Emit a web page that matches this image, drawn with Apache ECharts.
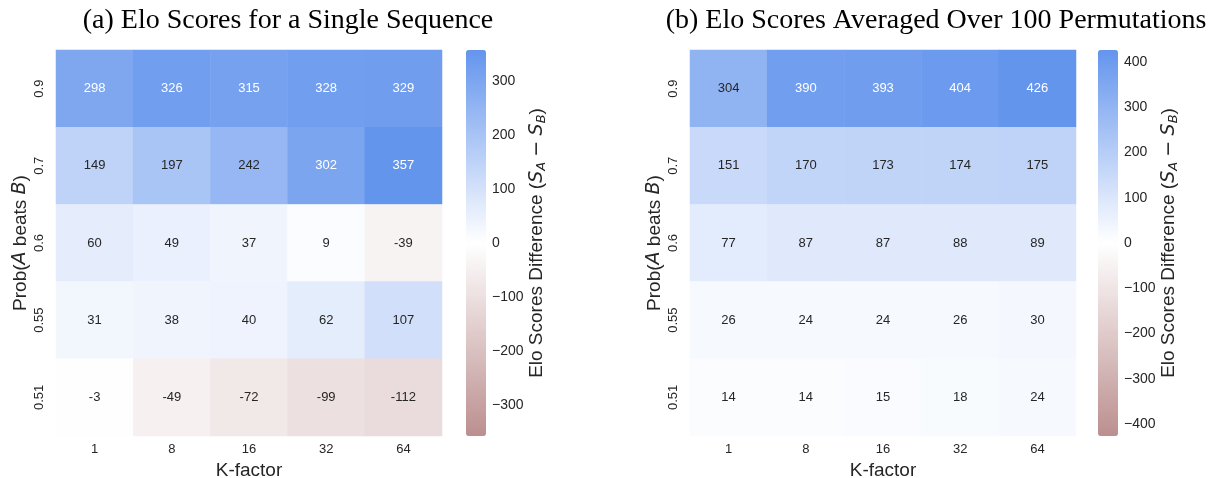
<!DOCTYPE html>
<html>
<head>
<meta charset="utf-8">
<script src="https://cdn.jsdelivr.net/npm/echarts@6/dist/echarts.min.js"></script>
<style>
html,body{margin:0;padding:0;background:#fff;}
#chart{width:1221px;height:478px;}
</style>
</head>
<body>
<div id="chart"></div>
<script>
// ---- data ----
const kFactors = ['1', '8', '16', '32', '64'];
const probLabels = ['0.9', '0.7', '0.6', '0.55', '0.51'];
const singleSeq = [
  [298, 326, 315, 328, 329],
  [149, 197, 242, 302, 357],
  [60, 49, 37, 9, -39],
  [31, 38, 40, 62, 107],
  [-3, -49, -72, -99, -112]
];
const avgPerm = [
  [304, 390, 393, 404, 426],
  [151, 170, 173, 174, 175],
  [77, 87, 87, 88, 89],
  [26, 24, 24, 26, 30],
  [14, 14, 15, 18, 24]
];
const cbTicksA = [-300, -200, -100, 0, 100, 200, 300];
const cbTicksB = [-400, -300, -200, -100, 0, 100, 200, 300, 400];
const titleA = '(a) Elo Scores for a Single Sequence';
const titleB = '(b) Elo Scores Averaged Over 100 Permutations';

// ---- style ----
const LOW = [188, 143, 143], MID = [255, 255, 255], HIGH = [100, 149, 237];
const TXT = '#262626';
const SANS = '"Liberation Sans", Arial, sans-serif';
const MATH = '"DejaVu Sans", sans-serif';
const SERIF = '"Liberation Serif", "DejaVu Serif", serif';
const NAME_FS = 19;

function absMax(m) { let v = 0; m.forEach(r => r.forEach(x => { v = Math.max(v, Math.abs(x)); })); return v; }
const vmaxA = absMax(singleSeq), vmaxB = absMax(avgPerm);

function cmap(v, vmax) {
  const t = (v + vmax) / (2 * vmax);
  let a, b, f;
  if (t < 0.5) { a = LOW; b = MID; f = t / 0.5; } else { a = MID; b = HIGH; f = (t - 0.5) / 0.5; }
  return a.map((c, i) => c + (b[i] - c) * f);
}
function lum(rgb) {
  const l = rgb.map(c => { c /= 255; return c <= 0.03928 ? c / 12.92 : Math.pow((c + 0.055) / 1.055, 2.4); });
  return 0.2126 * l[0] + 0.7152 * l[1] + 0.0722 * l[2];
}
function buildData(m, vmax) {
  const out = [];
  m.forEach((row, i) => row.forEach((v, j) => {
    out.push({ value: [j, i, v], label: { color: lum(cmap(v, vmax)) > 0.408 ? TXT : '#ffffff' } });
  }));
  return out;
}
const fmtMinus = v => (v < 0 ? '\u2212' + (-v) : '' + v);

const rich = {
  i: { fontStyle: 'italic', fontSize: NAME_FS, fontFamily: MATH, color: TXT },
  m: { fontSize: NAME_FS, fontFamily: MATH, color: TXT },
  sub: { fontStyle: 'italic', fontSize: 13, fontFamily: MATH, color: TXT, verticalAlign: 'bottom', padding: [0, 0, -2, 0] }
};

const G = [
  { left: 56, top: 50, width: 386, height: 386 },
  { left: 690, top: 50, width: 386, height: 386 },
  { left: 466, top: 50, width: 20, height: 386 },
  { left: 1098, top: 50, width: 20, height: 386 }
].map(g => Object.assign(g, { containLabel: false, outerBoundsMode: 'none' }));

function heatX(gi) {
  return {
    type: 'category', gridIndex: gi, data: kFactors, position: 'bottom',
    axisLine: { show: false }, axisTick: { show: false }, splitLine: { show: false },
    axisLabel: { fontSize: 13, color: TXT, fontFamily: SANS, margin: 7 },
    name: 'K-factor', nameLocation: 'middle', nameGap: 20,
    nameTextStyle: { fontSize: NAME_FS, color: TXT, fontFamily: SANS }
  };
}
function heatY(gi) {
  return {
    type: 'category', gridIndex: gi, data: probLabels, inverse: true,
    axisLine: { show: false }, axisTick: { show: false }, splitLine: { show: false },
    axisLabel: { fontSize: 13, color: TXT, fontFamily: SANS, rotate: 90, margin: 10 },
    name: 'Prob({i|A} beats {i|B})', nameLocation: 'middle', nameGap: 26, nameRotate: 90,
    nameTextStyle: { fontSize: NAME_FS, color: TXT, fontFamily: SANS, rich: rich }
  };
}
function cbY(gi, vmax, ticks) {
  return {
    type: 'value', gridIndex: gi, min: -vmax, max: vmax, position: 'right',
    axisLine: { show: false }, splitLine: { show: false },
    axisTick: { show: true, customValues: ticks, length: 4, lineStyle: { color: TXT, width: 1 } },
    axisLabel: { customValues: ticks, formatter: fmtMinus, fontSize: 14, color: TXT, fontFamily: SANS, margin: 6 },
    name: 'Elo Scores Difference ({i|S}{sub|A} {m|\u2212} {i|S}{sub|B})', nameLocation: 'middle', nameRotate: 90,
    nameGap: 41,
    nameTextStyle: { fontSize: NAME_FS, color: TXT, fontFamily: SANS, rich: rich }
  };
}

const chart = echarts.init(document.getElementById('chart'), null, { renderer: 'canvas' });
chart.setOption({
  backgroundColor: '#ffffff',
  animation: false,
  title: [
    { text: titleA, left: 283, top: 2, textAlign: 'center', textStyle: { fontFamily: SERIF, fontSize: 28, fontWeight: 'normal', color: '#000' } },
    { text: titleB, left: 931, top: 2, textAlign: 'center', textStyle: { fontFamily: SERIF, fontSize: 28, fontWeight: 'normal', color: '#000' } }
  ],
  grid: G,
  xAxis: [heatX(0), heatX(1),
    { type: 'value', gridIndex: 2, show: false },
    { type: 'value', gridIndex: 3, show: false }],
  yAxis: [heatY(0), heatY(1), cbY(2, vmaxA, cbTicksA), cbY(3, vmaxB, cbTicksB)],
  visualMap: [
    { type: 'continuous', seriesIndex: 0, min: -vmaxA, max: vmaxA, calculable: false, hoverLink: false,
      inRange: { color: ['rgb(' + LOW + ')', 'rgb(' + MID + ')', 'rgb(' + HIGH + ')'] },
      left: 466, top: 50, itemWidth: 20, itemHeight: 386, padding: 0, text: null, textStyle: { color: 'transparent' } },
    { type: 'continuous', seriesIndex: 1, min: -vmaxB, max: vmaxB, calculable: false, hoverLink: false,
      inRange: { color: ['rgb(' + LOW + ')', 'rgb(' + MID + ')', 'rgb(' + HIGH + ')'] },
      left: 1098, top: 50, itemWidth: 20, itemHeight: 386, padding: 0, text: null, textStyle: { color: 'transparent' } }
  ],
  series: [
    { type: 'heatmap', xAxisIndex: 0, yAxisIndex: 0, data: buildData(singleSeq, vmaxA),
      label: { show: true, fontSize: 13, fontFamily: SANS }, emphasis: { disabled: true } },
    { type: 'heatmap', xAxisIndex: 1, yAxisIndex: 1, data: buildData(avgPerm, vmaxB),
      label: { show: true, fontSize: 13, fontFamily: SANS }, emphasis: { disabled: true } }
  ]
});
</script>
</body>
</html>
